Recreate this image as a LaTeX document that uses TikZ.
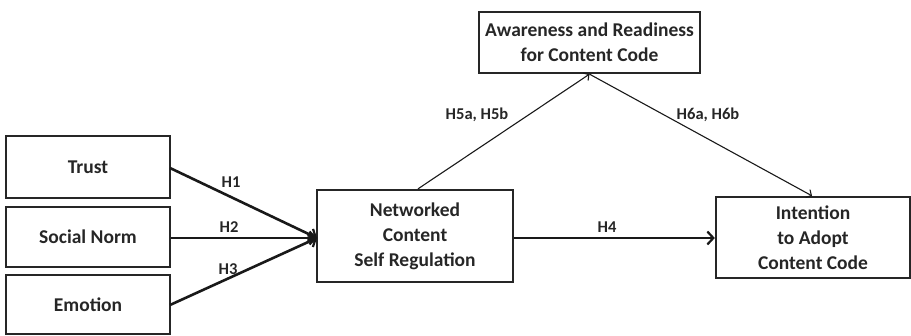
\documentclass[tikz,border=0pt]{standalone}
\usepackage{fontspec}
\setmainfont{Carlito}
\usetikzlibrary{arrows.meta}
\begin{document}
\begin{tikzpicture}[x=1pt,y=-1pt,
  box/.style={draw=black!85,line width=2.3pt,rectangle,inner sep=0pt,align=center,font=\bfseries\fontsize{19.5}{25}\selectfont,text=black!85},
  lbl/.style={font=\bfseries\fontsize{16.5}{18}\selectfont,text=black!85,inner sep=0pt},
  thick arrow/.style={draw=black!90,line width=2.6pt,-{Straight Barb[length=6pt,width=13pt,line width=2.2pt]}},
  thin arrow/.style={draw=black!90,line width=1.1pt,-{Straight Barb[length=4pt,width=9pt,line width=1.1pt]}}]
\useasboundingbox (0,0) rectangle (911,336);
\node[box,minimum width=164pt,minimum height=62pt] (trust) at (88,167) {Trust};
\node[box,minimum width=164pt,minimum height=60pt] (norm) at (88,237) {Social Norm};
\node[box,minimum width=164pt,minimum height=59pt] (emo) at (88,304.5) {Emotion};
\node[box,minimum width=196pt,minimum height=92pt] (ncsr) at (415,236) {Networked\\Content\\Self Regulation};
\node[box,minimum width=221pt,minimum height=61pt] (aware) at (589.5,42.5) {Awareness and Readiness\\for Content Code};
\node[box,minimum width=194pt,minimum height=81pt] (intent) at (813,237.5) {Intention\\to Adopt\\Content Code};
\coordinate (conv) at (317,238);
\draw[thick arrow] (170,168) -- (conv);
\draw[thick arrow] (norm.east |- conv) -- (conv);
\draw[thick arrow] (170,305) -- (conv);
\draw[thick arrow] (ncsr.east |- conv) -- (intent.west |- conv);
\draw[thin arrow] (ncsr.north -| 418,0) -- (aware.south);
\draw[thin arrow] (aware.south) -- (intent.north -| 812,0);
\node[lbl] (h1) at (231,182) {H1};
\node[lbl] (h2) at (229,227) {H2};
\node[lbl] (h3) at (228,269) {H3};
\node[lbl] (h4) at (607,227) {H4};
\node[lbl] (h5) at (477,115) {H5a, H5b};
\node[lbl] (h6) at (708,115) {H6a, H6b};
\end{tikzpicture}
\end{document}
